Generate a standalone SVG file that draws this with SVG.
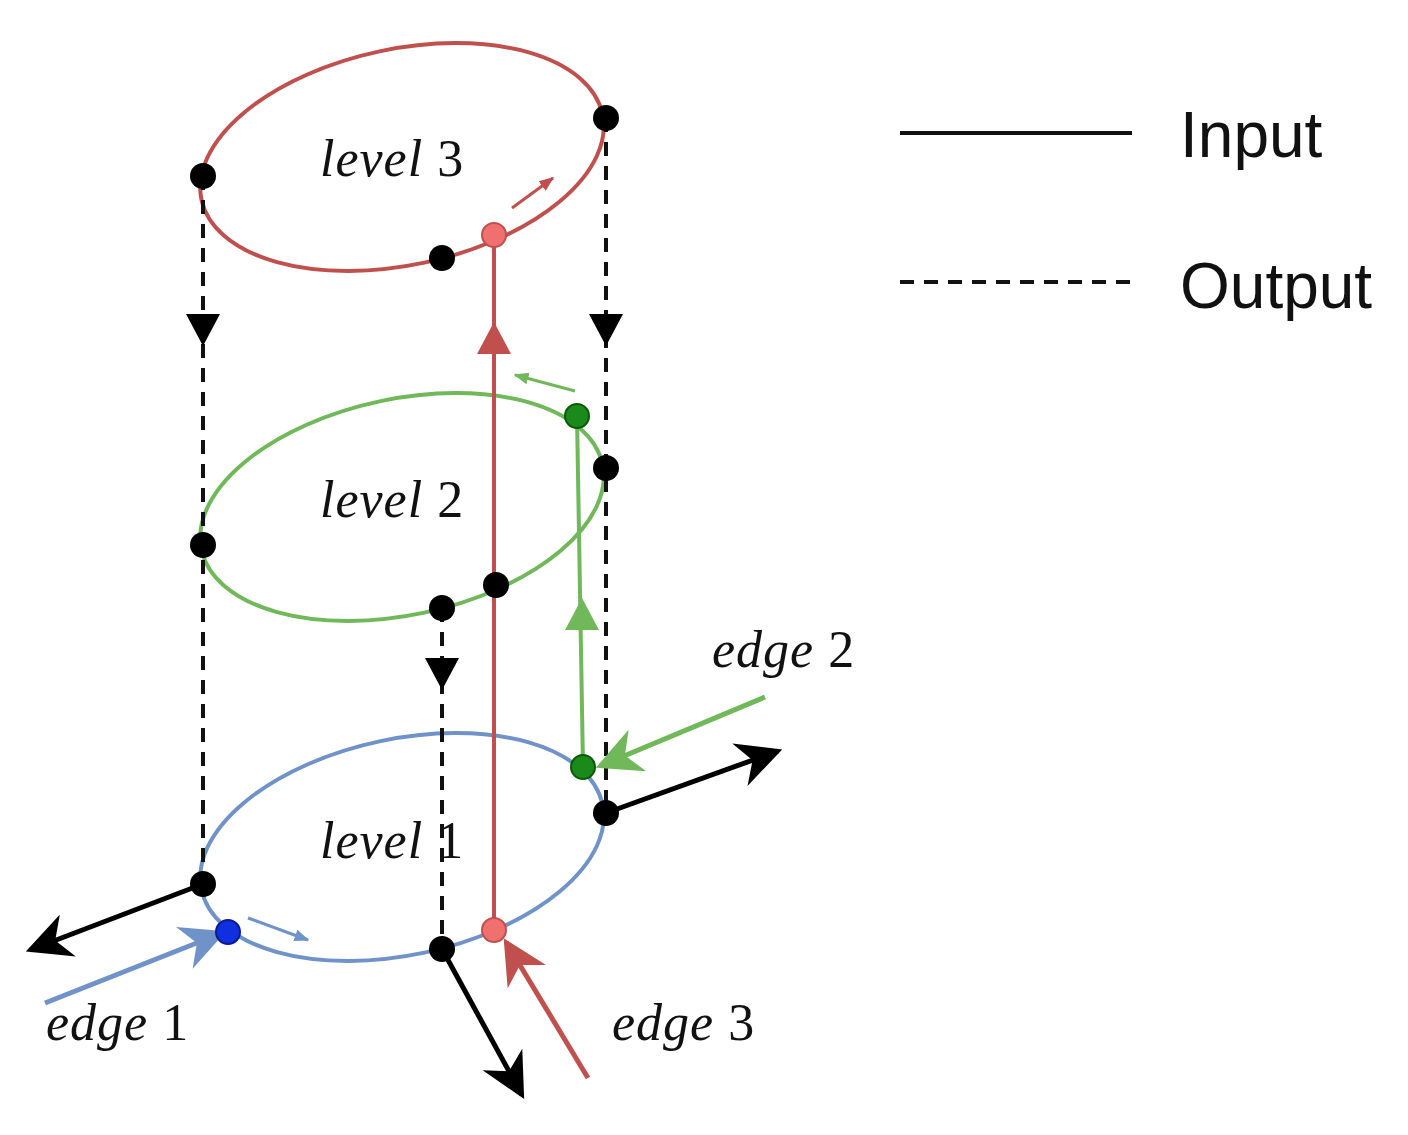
<svg xmlns="http://www.w3.org/2000/svg" width="1408" height="1135" viewBox="0 0 1408 1135">
<defs>
<style>
.lbl{font-family:"Liberation Serif",serif;font-style:italic;font-size:52px;fill:#111;letter-spacing:1px}
.num{font-style:normal}
.leg{font-family:"Liberation Sans",Arial,sans-serif;font-size:64px;fill:#111}
.dash{stroke:#111;stroke-width:4;stroke-dasharray:14 10;fill:none}
.dot{fill:#000}
</style>
<marker id="ab" viewBox="0 0 10 10" refX="9" refY="5" markerWidth="9" markerHeight="9" orient="auto" markerUnits="strokeWidth"><path d="M0,0L10,5L0,10L3,5Z" fill="#000"/></marker>
<marker id="ar" viewBox="0 0 10 10" refX="9" refY="5" markerWidth="9" markerHeight="9" orient="auto" markerUnits="strokeWidth"><path d="M0,0L10,5L0,10L3,5Z" fill="#c0504d"/></marker>
<marker id="ag" viewBox="0 0 10 10" refX="9" refY="5" markerWidth="9" markerHeight="9" orient="auto" markerUnits="strokeWidth"><path d="M0,0L10,5L0,10L3,5Z" fill="#70b85a"/></marker>
<marker id="abl" viewBox="0 0 10 10" refX="9" refY="5" markerWidth="9" markerHeight="9" orient="auto" markerUnits="strokeWidth"><path d="M0,0L10,5L0,10L3,5Z" fill="#6f93c8"/></marker>
<marker id="sr" viewBox="0 0 10 10" refX="9" refY="5" markerWidth="5" markerHeight="5" orient="auto" markerUnits="strokeWidth"><path d="M0,1L10,5L0,9Z" fill="#c0504d"/></marker>
<marker id="sg" viewBox="0 0 10 10" refX="9" refY="5" markerWidth="5" markerHeight="5" orient="auto" markerUnits="strokeWidth"><path d="M0,1L10,5L0,9Z" fill="#70b85a"/></marker>
<marker id="sb" viewBox="0 0 10 10" refX="9" refY="5" markerWidth="5" markerHeight="5" orient="auto" markerUnits="strokeWidth"><path d="M0,1L10,5L0,9Z" fill="#6f93c8"/></marker>
</defs>
<rect width="1408" height="1135" fill="#fff"/>
<g id="level3"><ellipse cx="402" cy="157" rx="205" ry="108" transform="rotate(-12 402 157)" fill="none" stroke="#c0504d" stroke-width="4"/><text class="lbl" x="320" y="176">level <tspan class="num">3</tspan></text></g>
<g id="level2"><ellipse cx="402" cy="507" rx="205" ry="108" transform="rotate(-12 402 507)" fill="none" stroke="#70b85a" stroke-width="4"/><text class="lbl" x="320" y="517">level <tspan class="num">2</tspan></text></g>
<g id="level1"><ellipse cx="402" cy="847" rx="205" ry="108" transform="rotate(-12 402 847)" fill="none" stroke="#6f93c8" stroke-width="4"/><text class="lbl" x="320" y="858">level <tspan class="num">1</tspan></text></g>
<g id="connectors">
<line class="dash" x1="203" y1="176" x2="203" y2="884"/>
<line class="dash" x1="606" y1="118" x2="606" y2="813"/>
<line class="dash" x1="442" y1="608" x2="442" y2="949"/>
<path d="M186,314L220,314L203,346Z M589,314L623,314L606,346Z M425,658L459,658L442,690Z" fill="#000"/>
<line x1="494" y1="930" x2="494" y2="235" stroke="#c0504d" stroke-width="4"/>
<path d="M477,354L511,354L494,322Z" fill="#c0504d"/>
<line x1="583" y1="767" x2="577" y2="416" stroke="#70b85a" stroke-width="4"/>
<path d="M565,630L599,630L582,598Z" fill="#70b85a"/>
<line x1="606" y1="813" x2="778" y2="751" stroke="#000" stroke-width="5" marker-end="url(#ab)"/>
<line x1="203" y1="884" x2="30" y2="950" stroke="#000" stroke-width="5" marker-end="url(#ab)"/>
<line x1="442" y1="949" x2="522" y2="1095" stroke="#000" stroke-width="5" marker-end="url(#ab)"/>
<line x1="45" y1="1003" x2="222" y2="933" stroke="#6f93c8" stroke-width="5" marker-end="url(#abl)"/>
<line x1="765" y1="697" x2="600" y2="766" stroke="#70b85a" stroke-width="5" marker-end="url(#ag)"/>
<line x1="588" y1="1078" x2="506" y2="942" stroke="#c0504d" stroke-width="5" marker-end="url(#ar)"/>
<line x1="512" y1="208" x2="553" y2="178" stroke="#c0504d" stroke-width="3" marker-end="url(#sr)"/>
<line x1="575" y1="391" x2="515" y2="375" stroke="#70b85a" stroke-width="3" marker-end="url(#sg)"/>
<line x1="248" y1="918" x2="308" y2="940" stroke="#6f93c8" stroke-width="3" marker-end="url(#sb)"/>
</g>
<g id="points">
<circle class="dot" cx="203" cy="176" r="13"/><circle class="dot" cx="606" cy="118" r="13"/><circle class="dot" cx="442" cy="258" r="13"/>
<circle cx="494" cy="235" r="12" fill="#f07070" stroke="#c0504d" stroke-width="2"/>
<circle class="dot" cx="203" cy="545" r="13"/><circle class="dot" cx="606" cy="468" r="13"/><circle class="dot" cx="442" cy="608" r="13"/><circle class="dot" cx="496" cy="585" r="13"/>
<circle cx="577" cy="416" r="12" fill="#1a8a1a" stroke="#0a5a0a" stroke-width="2"/>
<circle class="dot" cx="203" cy="884" r="13"/><circle class="dot" cx="606" cy="813" r="13"/><circle class="dot" cx="442" cy="949" r="13"/>
<circle cx="583" cy="767" r="12" fill="#1a8a1a" stroke="#0a5a0a" stroke-width="2"/>
<circle cx="228" cy="932" r="12" fill="#1030e0" stroke="#0a1a90" stroke-width="2"/>
<circle cx="494" cy="930" r="12" fill="#f07070" stroke="#c0504d" stroke-width="2"/>
</g>
<g id="edge-labels">
<text class="lbl" x="46" y="1040">edge <tspan class="num">1</tspan></text>
<text class="lbl" x="712" y="667">edge <tspan class="num">2</tspan></text>
<text class="lbl" x="612" y="1040">edge <tspan class="num">3</tspan></text>
</g>
<g id="legend">
<line x1="900" y1="133" x2="1132" y2="133" stroke="#111" stroke-width="4"/>
<text class="leg" x="1180" y="157">Input</text>
<line class="dash" x1="900" y1="282" x2="1130" y2="282"/>
<text class="leg" x="1180" y="308">Output</text>
</g>
</svg>
